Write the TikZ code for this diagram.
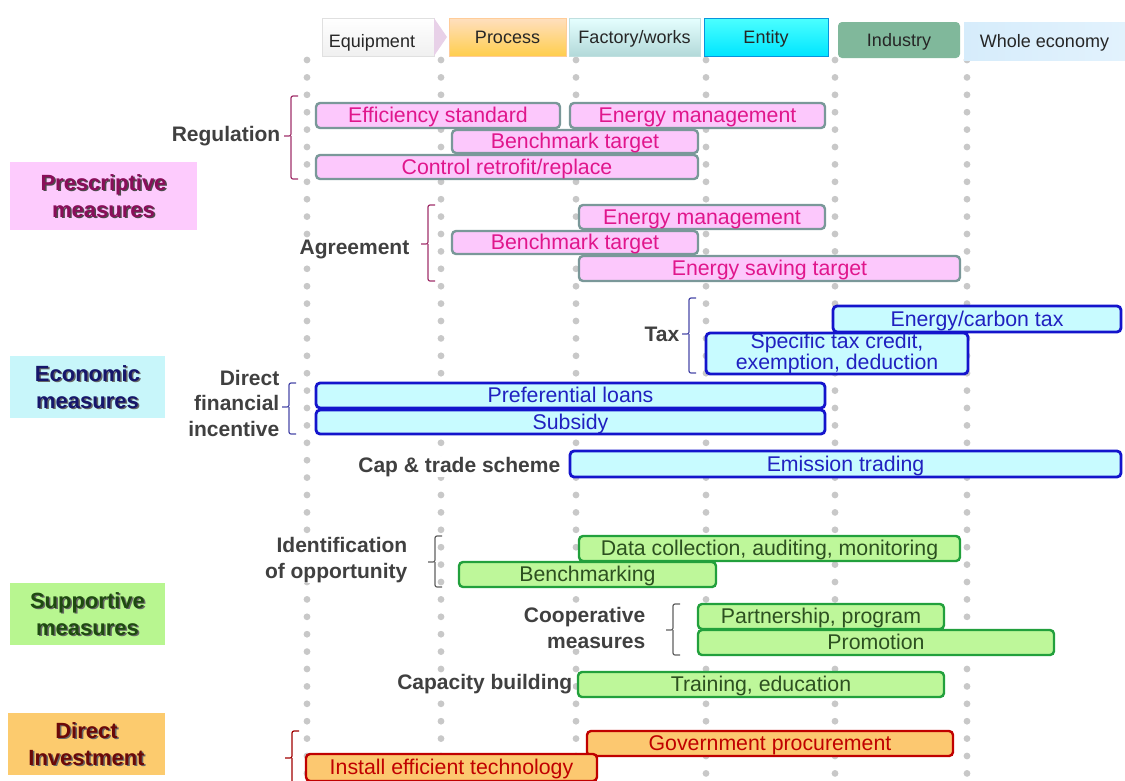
\documentclass[tikz,border=0pt]{standalone}
\usepackage{fontspec}
\setmainfont{Liberation Sans}
\usetikzlibrary{calc}
\definecolor{dotc}{HTML}{C8C8C8}
\definecolor{pinkfill}{HTML}{FCC8FC}
\definecolor{pinkline}{HTML}{7A9899}
\definecolor{pinktext}{HTML}{E0168C}
\definecolor{bluefill}{HTML}{C8FBFF}
\definecolor{blueline}{HTML}{1414CC}
\definecolor{bluetext}{HTML}{2020C0}
\definecolor{greenfill}{HTML}{BEF79A}
\definecolor{greenline}{HTML}{22A03C}
\definecolor{greentext}{HTML}{2C5020}
\definecolor{redfill}{HTML}{FCC870}
\definecolor{redline}{HTML}{C00000}
\definecolor{redtext}{HTML}{C00000}
\definecolor{labc}{HTML}{404040}
\definecolor{catpink}{HTML}{FDCBFD}
\definecolor{catpinkt}{HTML}{8A0E5A}
\definecolor{catblue}{HTML}{C8F6FA}
\definecolor{catbluet}{HTML}{16166B}
\definecolor{catgreen}{HTML}{B8F690}
\definecolor{catgreent}{HTML}{1E4A10}
\definecolor{catred}{HTML}{FCCB6E}
\definecolor{catredt}{HTML}{6B0808}
\definecolor{brkpink}{HTML}{A0306A}
\definecolor{brkblue}{HTML}{4848A8}
\definecolor{brkgreen}{HTML}{606060}
\definecolor{brkred}{HTML}{A00000}
\newcommand\mkbar[7]{\node[#2, minimum width={(#5-#3)*1pt}, minimum height={(#6-#4)*1pt}] (#1) at ({(#3+#5)/2},{(#4+#6)/2}) {#7};}
\newcommand\brk[5]{\draw[brkline, #5] ({#1+7},#2) -| (#1,#4) -- ({#1-7},#4) (#1,#4) |- ({#1+7},#3);}
\begin{document}
\begin{tikzpicture}[x=1pt,y=-1pt,
  bar/.style={draw, rounded corners=4pt, inner sep=0pt, outer sep=0pt, align=center,
    font=\fontsize{21.3}{17}\selectfont, line width=2.4pt, text height=14pt, text depth=-1pt},
  pinkbar/.style={bar, fill=pinkfill, draw=pinkline, text=pinktext},
  bluebar/.style={bar, fill=bluefill, draw=blueline, text=bluetext, line width=2.8pt},
  greenbar/.style={bar, fill=greenfill, draw=greenline, text=greentext},
  redbar/.style={bar, fill=redfill, draw=redline, text=redtext},
  hdr/.style={inner sep=0pt, outer sep=0pt, font=\fontsize{18}{20}\selectfont, text=black!85, text height=12.5pt, text depth=0pt},
  lab/.style={font=\bfseries\fontsize{21}{25.5}\selectfont, text=labc, align=right, inner sep=0.5pt, fill=white},
  catbox/.style={inner sep=0pt, outer sep=0pt},
  cattext/.style={font=\bfseries\fontsize{22}{27}\selectfont, align=center, inner sep=0pt},
  brkline/.style={line width=1.2pt, rounded corners=2pt}
]
\useasboundingbox (0,0) rectangle (1125,780);
\clip (0,0) rectangle (1125,780);
% dot grid
\foreach \x in {307,441,576,706,835,967}{
  \foreach \i in {0,...,41}{
    \fill[dotc] (\x,{60+\i*17.4}) circle (3.4pt);
  }
}
% headers
\mkbar{hEquip}{hdr, fill=white, top color=white, bottom color=black!6, draw=black!12}{322}{18}{434}{56}{}
\node[hdr] (tEquip) at (372,41) {Equipment};
\fill[fill=violet!18] (hEquip.north east) -- (447,37) -- (hEquip.south east) -- cycle;
\mkbar{hProc}{hdr, top color=orange!25, bottom color=orange!55!yellow!70, draw=orange!40}{449}{18}{566}{56}{Process}
\mkbar{hFact}{hdr, top color=cyan!10, bottom color=teal!30, draw=teal!25}{569}{18}{700}{56}{Factory/works}
\mkbar{hEnt}{hdr, top color=cyan!70, bottom color=cyan!90!blue, draw=cyan!80!blue}{704}{18}{828}{56}{Entity}
\mkbar{hInd}{hdr, fill={rgb,255:red,128;green,184;blue,155}, rounded corners=4pt}{838}{22}{960}{58}{Industry}
\mkbar{hWhole}{hdr, left color={rgb,255:red,214;green,236;blue,251}, right color={rgb,255:red,226;green,242;blue,253}}{964}{22}{1125}{60}{Whole economy}
% category boxes
\mkbar{cPres}{catbox, fill=catpink}{10}{162}{197}{230}{}
\node[cattext, text=black!70] (cPresS) at ($(cPres.center)+(1.5,1.5)$) {Prescriptive\\measures};
\node[cattext, text=catpinkt] (cPresT) at (cPres.center) {Prescriptive\\measures};
\mkbar{cEco}{catbox, fill=catblue}{10}{356}{165}{418}{}
\node[cattext, text=black!60] (cEcoS) at ($(cEco.center)+(1.5,1.5)$) {Economic\\measures};
\node[cattext, text=catbluet] (cEcoT) at (cEco.center) {Economic\\measures};
\mkbar{cSup}{catbox, fill=catgreen}{10}{583}{165}{645}{}
\node[cattext, text=black!60] (cSupS) at ($(cSup.center)+(1.5,1.5)$) {Supportive\\measures};
\node[cattext, text=catgreent] (cSupT) at (cSup.center) {Supportive\\measures};
\mkbar{cInv}{catbox, fill=catred}{8}{713}{165}{775}{}
\node[cattext, text=black!60] (cInvS) at ($(cInv.center)+(1.5,1.5)$) {Direct\\Investment};
\node[cattext, text=catredt] (cInvT) at (cInv.center) {Direct\\Investment};
% pink bars
\mkbar{bEff}{pinkbar}{316}{103}{560}{128}{Efficiency standard}
\mkbar{bEm1}{pinkbar}{570}{103}{825}{128}{Energy management}
\mkbar{bBt1}{pinkbar}{452}{130}{698}{153}{Benchmark target}
\mkbar{bCtrl}{pinkbar}{316}{155}{698}{179}{Control retrofit/replace}
\mkbar{bEm2}{pinkbar}{579}{205}{825}{229}{Energy management}
\mkbar{bBt2}{pinkbar}{452}{231}{698}{254}{Benchmark target}
\mkbar{bEst}{pinkbar}{579}{256}{960}{281}{Energy saving target}
% blue bars
\mkbar{bCarb}{bluebar}{833}{306}{1121}{332}{Energy/carbon tax}
\mkbar{bSpec}{bluebar, text height=, text depth=}{706}{333}{968}{374}{Specific tax credit,\\exemption, deduction}
\mkbar{bLoan}{bluebar}{316}{383}{825}{408}{Preferential loans}
\mkbar{bSub}{bluebar}{316}{410}{825}{434}{Subsidy}
\mkbar{bEmis}{bluebar}{570}{451}{1121}{477}{Emission trading}
% green bars
\mkbar{bData}{greenbar}{579}{536}{960}{561}{Data collection, auditing, monitoring}
\mkbar{bBm}{greenbar}{459}{562}{716}{587}{Benchmarking}
\mkbar{bPart}{greenbar}{698}{604}{944}{629}{Partnership, program}
\mkbar{bProm}{greenbar}{698}{630}{1054}{655}{Promotion}
\mkbar{bTrain}{greenbar}{578}{672}{944}{697}{Training, education}
% red bars
\mkbar{bGov}{redbar}{587}{731}{953}{756}{Government procurement}
\mkbar{bInst}{redbar}{306}{754}{597}{781}{Install efficient technology}
% brackets
\brk{291}{96}{179}{136}{brkpink}
\brk{428}{205}{281}{244}{brkpink}
\brk{689}{298}{373}{334}{brkblue}
\brk{289}{383}{434}{407}{brkblue}
\brk{435}{536}{587}{562}{brkgreen}
\brk{673}{604}{655}{630}{brkgreen}
\brk{292}{731}{790}{758}{brkred}
% labels
\node[lab, anchor=east] (lReg) at (281,136) {Regulation};
\node[lab, anchor=east] (lAgr) at (410,249) {Agreement};
\node[lab, anchor=east] (lTax) at (680,334) {Tax};
\node[lab, anchor=east] (lDir) at (280,403) {Direct\\financial\\incentive};
\node[lab, anchor=east] (lCap) at (561,467) {Cap \& trade scheme};
\node[lab, anchor=east] (lId) at (408,560) {Identification\\of opportunity};
\node[lab, anchor=east] (lCoop) at (646,628) {Cooperative\\measures};
\node[lab, anchor=east] (lCb) at (573,684) {Capacity building};
\end{tikzpicture}
\end{document}
